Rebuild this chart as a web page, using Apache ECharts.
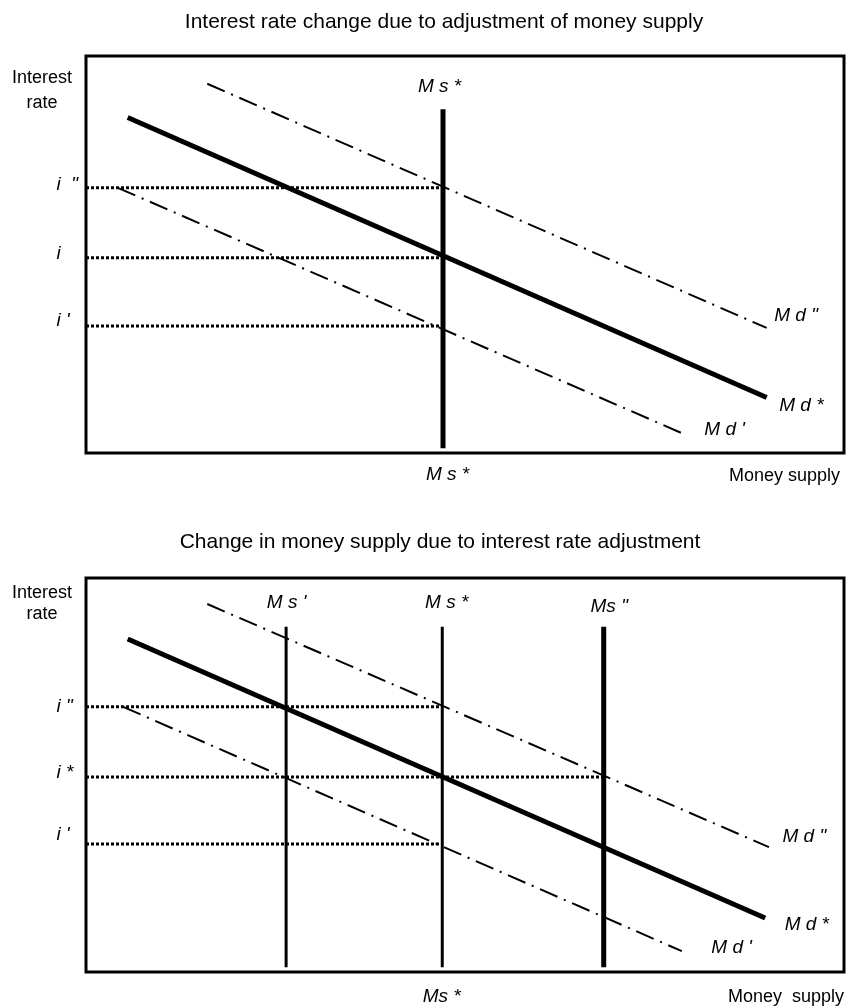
<!DOCTYPE html>
<html>
<head>
<meta charset="utf-8">
<script src="https://cdn.jsdelivr.net/npm/echarts@6/dist/echarts.min.js"></script>
<style>
html,body{margin:0;padding:0;background:#fff;}
#chart{width:846px;height:1008px;}
</style>
</head>
<body>
<div id="chart"></div>
<script>
// ---------- data (axis units 0..100 for money supply and interest rate) ----------
const panelTitles = ['Interest rate change due to adjustment of money supply',
                     'Change in money supply due to interest rate adjustment'];
const yAxisTitle = ['Interest', 'rate'];
const xAxisTitle = 'Money supply';

// top panel
const topMdStar = [[5.5, 84.5], [89.8, 14.0]];
const topMdHigh = [[16.0, 93.0], [89.8, 31.5]];
const topMdLow  = [[4.2, 66.8], [78.6, 5.0]];
const topMdLabels = ['M d "', 'M d *', "M d '"];
const topMsX = 47.1;
const topMsRange = [1.2, 86.6];
const topMsLabel = 'M s *';
const topRates = [66.8, 49.2, 32.0];
const topRateLabels = ['i  "', 'i', "i '"];
const topRateEnds = [47.1, 47.1, 47.1];

// bottom panel
const botMdStar = [[5.5, 84.5], [89.6, 13.7]];
const botMdHigh = [[16.0, 93.4], [90.1, 31.7]];
const botMdLow  = [[4.9, 67.3], [78.6, 5.3]];
const botMdLabels = ['M d "', 'M d *', "M d '"];
const botMsX = [26.4, 47.0, 68.3];
const botMsRange = [1.2, 87.6];
const botMsLabels = ["M s '", 'M s *', 'Ms "'];
const botRates = [67.3, 49.5, 32.5];
const botRateLabels = ['i "', 'i *', "i '"];
const botRateEnds = [47.0, 68.3, 47.0];
const botXLabel = 'Ms *';

// ---------- styles ----------
const FONT = '"Liberation Sans", Arial, sans-serif';
const ital = {fontFamily: FONT, fontStyle: 'italic', fontSize: 19, color: '#000',
              textBorderWidth: 0, opacity: 1};
const dashDot = [19, 7, 2, 7];
const dotted = [3, 2];

const grids = [
  {left: 86, top: 56, width: 758, height: 397},
  {left: 86, top: 578, width: 758, height: 394}
];

function axes() {
  return grids.map((g, i) => ({
    type: 'value', gridIndex: i, min: 0, max: 100, show: false,
    splitLine: {show: false}
  }));
}

const series = [];
function line(gi, data, width, type) {
  series.push({
    type: 'line', xAxisIndex: gi, yAxisIndex: gi, data: data,
    symbol: 'none', silent: true, animation: false,
    lineStyle: {color: '#000', width: width, type: type, cap: 'butt'}
  });
}
function labels(gi, items) {
  series.push({
    type: 'scatter', xAxisIndex: gi, yAxisIndex: gi, symbolSize: 1,
    itemStyle: {color: '#fff', opacity: 0}, silent: true, animation: false,
    data: items.map(it => ({
      value: it.v,
      label: Object.assign({show: true, formatter: it.t, position: it.p || [0, 0],
        align: it.a || 'left', verticalAlign: 'middle'}, ital, it.s || {})
    }))
  });
}

// ---- top panel ----
topRates.forEach((r, k) => line(0, [[0, r], [topRateEnds[k], r]], 3, dotted));
line(0, topMdHigh, 2, dashDot);
line(0, topMdLow, 2, dashDot);
line(0, topMdStar, 5, 'solid');
line(0, [[topMsX, topMsRange[0]], [topMsX, topMsRange[1]]], 5, 'solid');
labels(0, [
  {v: [0, topRates[0]], t: topRateLabels[0], p: [-29, -3]},
  {v: [0, topRates[1]], t: topRateLabels[1], p: [-29, -3]},
  {v: [0, topRates[2]], t: topRateLabels[2], p: [-29, -5]},
  {v: [topMsX, topMsRange[1]], t: topMsLabel, p: [-3, -22], a: 'center'},
  {v: [topMsX, 0], t: topMsLabel, p: [5, 22], a: 'center'},
  {v: topMdHigh[1], t: topMdLabels[0], p: [8, -12]},
  {v: topMdStar[1], t: topMdLabels[1], p: [13, 9]},
  {v: topMdLow[1], t: topMdLabels[2], p: [23, -3]}
]);

// ---- bottom panel ----
botRates.forEach((r, k) => line(1, [[0, r], [botRateEnds[k], r]], 3, dotted));
line(1, botMdHigh, 2, dashDot);
line(1, botMdLow, 2, dashDot);
line(1, botMdStar, 5, 'solid');
botMsX.forEach((x, k) => line(1, [[x, botMsRange[0]], [x, botMsRange[1]]], k === 2 ? 5 : 3, 'solid'));
labels(1, [
  {v: [0, botRates[0]], t: botRateLabels[0], p: [-29, 0]},
  {v: [0, botRates[1]], t: botRateLabels[1], p: [-29, -4]},
  {v: [0, botRates[2]], t: botRateLabels[2], p: [-29, -9]},
  {v: [botMsX[0], botMsRange[1]], t: botMsLabels[0], p: [1, -24], a: 'center'},
  {v: [botMsX[1], botMsRange[1]], t: botMsLabels[1], p: [5, -24], a: 'center'},
  {v: [botMsX[2], botMsRange[1]], t: botMsLabels[2], p: [6, -20], a: 'center'},
  {v: [botMsX[1], 0], t: botXLabel, p: [0, 25], a: 'center'},
  {v: botMdHigh[1], t: botMdLabels[0], p: [14, -10]},
  {v: botMdStar[1], t: botMdLabels[1], p: [20, 7]},
  {v: botMdLow[1], t: botMdLabels[2], p: [30, -3]}
]);

const plain = {fontFamily: FONT, fontSize: 18, fill: '#000'};
function txt(x, y, text, extra) {
  return {type: 'text', x: x, y: y, silent: true,
    style: Object.assign({}, plain, {text: text, align: 'center', verticalAlign: 'middle'}, extra || {})};
}
const graphic = [
  txt(444, 22, panelTitles[0], {fontSize: 21}),
  txt(440, 542, panelTitles[1], {fontSize: 21}),
  txt(42, 78, yAxisTitle[0]),
  txt(42, 103, yAxisTitle[1]),
  txt(42, 593, yAxisTitle[0]),
  txt(42, 614, yAxisTitle[1]),
  txt(840, 476, xAxisTitle, {align: 'right'}),
  txt(844, 997, 'Money  supply', {align: 'right'})
];

const chart = echarts.init(document.getElementById('chart'), null, {renderer: 'canvas'});
chart.setOption({
  backgroundColor: '#fff',
  animation: false,
  grid: grids.map(g => Object.assign({show: true, borderColor: '#000', borderWidth: 3, backgroundColor: '#fff'}, g)),
  xAxis: axes(),
  yAxis: axes(),
  series: series,
  graphic: graphic
});
</script>
</body>
</html>
